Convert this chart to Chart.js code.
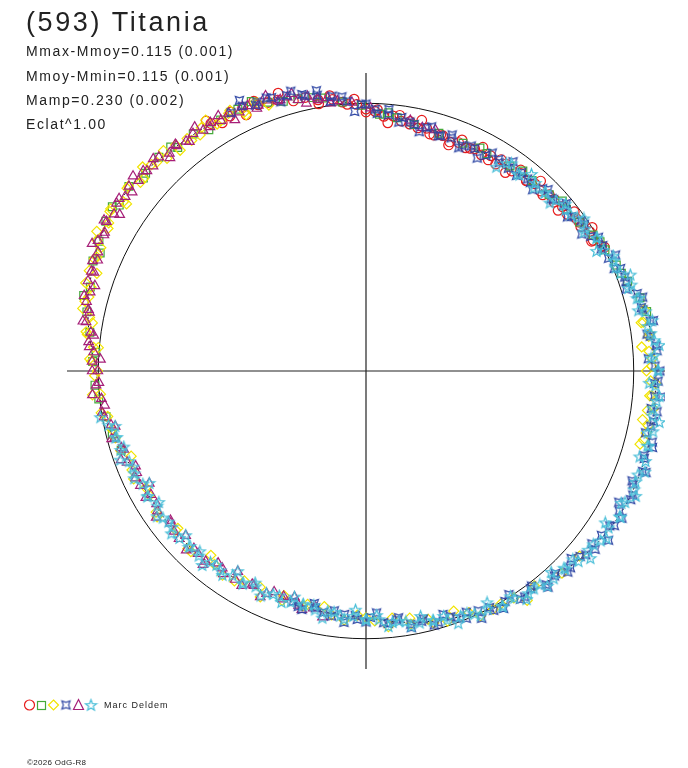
<!DOCTYPE html>
<html>
<head>
<meta charset="utf-8">
<script src="https://cdn.jsdelivr.net/npm/chart.js@4/dist/chart.umd.min.js"></script>
<style>
  html, body { margin: 0; padding: 0; background: #fff; }
  #wrap { position: relative; width: 688px; height: 768px; overflow: hidden; }
  canvas#c { position: absolute; left: 0; top: 0; }
  .t { position: absolute; font-family: "Liberation Sans", Arial, sans-serif; color: #222; white-space: nowrap; }
  #title { left: 26px; top: 9px; font-size: 27px; line-height: 27px; letter-spacing: 2.6px; }
  .st { left: 26px; font-size: 14px; line-height: 14px; letter-spacing: 1.6px; }
  #author { left: 104px; top: 701px; font-size: 9px; line-height: 9px; letter-spacing: 1px; }
  #copy { left: 27px; top: 759px; font-size: 8px; line-height: 8px; letter-spacing: 0.3px; }
</style>
</head>
<body>
<div id="wrap">
  <canvas id="c" width="688" height="768"></canvas>
  <div class="t" id="title">(593) Titania</div>
  <div class="t st" style="top:44px">Mmax-Mmoy=0.115 (0.001)</div>
  <div class="t st" style="top:69px">Mmoy-Mmin=0.115 (0.001)</div>
  <div class="t st" style="top:93px">Mamp=0.230 (0.002)</div>
  <div class="t st" style="top:117px">Eclat^1.00</div>
  <div class="t" id="author">Marc Deldem</div>
  <div class="t" id="copy">©2026 OdG-R8</div>
</div>
<script>
// ---- data: angle (deg, counter-clockwise from +x) and relative brightness radius ----
const axisMax = 1.115; // Mmax-Mmoy extent of the axes
const meanRadius = 1.0;

const redAngle  = [122,118,115,112,108,100,97,94,92,90,88,86,84,82,80,78,76,74,72,70,68,66,64,62,60,58,56,54,52,50,48,46,44,42,40,38,36,34,32,30,28,
                   122.5,120,117.5,115,112.5,110,107.5,105,102.5,100,97.5,95,92.5,90,87.5,85,82.5,80,77.5,75,72.5,70,67.5,65,62.5,60,57.5,55,52.5,50,47.5,45,42.5,40,37.5,35,32.5,30,27.5];
const redRadius = [1.092,1.080,1.088,1.074,1.066,1.030,1.024,1.000,0.998,0.980,0.972,0.955,0.960,0.944,0.948,0.930,0.936,0.918,0.926,0.912,0.922,0.914,0.925,0.916,0.930,0.913,0.934,0.925,0.938,0.930,0.942,0.936,0.950,0.944,0.956,0.952,0.970,0.966,0.984,0.978,0.995,
                   1.109,1.072,1.093,1.057,1.093,1.069,1.090,1.046,1.048,1.015,1.039,1.010,1.018,0.969,0.979,0.932,0.965,0.938,0.961,0.918,0.927,0.900,0.936,0.919,0.944,0.912,0.938,0.906,0.948,0.930,0.964,0.932,0.952,0.935,0.979,0.970,1.000,0.971,1.003];

const greenAngle  = [178,172,168,163,158,154,150,146,142,138,134,130,126,120,116,110,104,99,95,91,87,83,79,73,67,61,55,49,44,39,35,31,27,23,19,15,186,190,194,198,
                     176,165,156,147,139,131,123,113,107,101,85,63,52,41,29,21,12,183];
const greenRadius = [1.020,1.040,1.064,1.075,1.098,1.108,1.120,1.110,1.122,1.106,1.112,1.092,1.096,1.084,1.090,1.070,1.050,1.034,1.010,0.994,0.962,0.955,0.940,0.930,0.926,0.930,0.936,0.944,0.950,0.962,0.972,0.988,1.000,1.014,1.032,1.058,1.002,0.984,0.975,0.960,
                     1.010,1.090,1.085,1.128,1.100,1.110,1.076,1.095,1.055,1.042,0.970,0.936,0.950,0.970,0.998,1.020,1.070,1.012];

const yellowAngle  = [112,115,118,121,124,127,130,133,136,139,142,145,148,151,154,157,160,163,166,169,172,175,178,
                      181,185,189,193,198,203,208,214,220,226,232,238,244,250,256,262,268,
                      272,276,280,284,288,293,298,303,308,314,319,
                      346,349,352,355,358,1,4,7,10,
                      110,112.5,115,117.5,120,122.5,125,127.5,130,132.5,135,137.5,140,142.5,145,147.5,150,152.5,155,157.5,160,162.5,165,167.5,170,172.5,175,177.5,180,
                      185,190,195,200,205,210,215,220,225,230,235,240,245,250,255,260,265,270,275,280,285,290,295,300,305,
                      345,347.5,350,352.5,355,357.5,0,2.5,5,7.5,10,12.5];
const yellowRadius = [1.082,1.070,1.092,1.078,1.098,1.080,1.104,1.088,1.112,1.098,1.124,1.104,1.126,1.100,1.116,1.090,1.098,1.072,1.080,1.050,1.054,1.020,1.024,
                      1.012,0.994,1.000,0.972,0.962,0.948,0.930,0.944,0.926,0.940,0.918,0.926,0.900,0.914,0.900,0.922,0.914,
                      0.936,0.930,0.962,0.958,0.984,0.982,1.010,1.012,1.020,1.052,1.055,
                      1.066,1.072,1.060,1.070,1.062,1.066,1.058,1.062,1.050,
                      1.059,1.087,1.057,1.099,1.082,1.113,1.078,1.096,1.078,1.118,1.104,1.130,1.098,1.123,1.090,1.129,1.108,1.132,1.091,1.097,1.068,1.096,1.070,1.082,1.036,1.048,1.002,1.031,1.001,
                      1.024,0.978,0.968,0.932,0.956,0.932,0.951,0.916,0.940,0.900,0.933,0.907,0.933,0.894,0.910,0.895,0.936,0.923,0.960,0.939,0.976,0.956,1.011,1.006,1.048,
                      1.058,1.070,1.047,1.081,1.062,1.083,1.046,1.068,1.032,1.067,1.042,1.064];

const blueAngle  = [115,112,109,106,103,100,97,94,91,88,85,82,79,76,73,70,67,64,61,58,55,52,49,46,43,40,37,34,31,28,25,22,19,16,13,10,7,4,1,
                    358,355,352,349,346,343,340,337,334,331,328,325,322,319,316,313,310,307,304,301,298,295,292,289,286,283,280,277,274,271,268,265,262,258,254,
                    117.5,115,112.5,110,107.5,105,102.5,100,97.5,95,92.5,90,87.5,85,82.5,80,77.5,75,72.5,70,67.5,65,62.5,60,57.5,55,52.5,50,47.5,45,42.5,40,37.5,35,32.5,30,27.5,25,22.5,20,17.5,15,12.5,10,7.5,5,2.5,0,
                    357.5,355,352.5,350,347.5,345,342.5,340,337.5,335,332.5,330,327.5,325,322.5,320,317.5,315,312.5,310,307.5,305,302.5,300,297.5,295,292.5,290,287.5,285,282.5,280,277.5,275,272.5,270,267.5,265,262.5,260,257.5,255,252.5];
const blueRadius = [1.094,1.086,1.082,1.072,1.062,1.048,1.036,1.012,0.998,0.980,0.962,0.958,0.940,0.938,0.920,0.928,0.916,0.926,0.922,0.934,0.926,0.942,0.934,0.948,0.944,0.962,0.960,0.982,0.978,1.000,0.998,1.024,1.026,1.052,1.054,1.076,1.068,1.088,1.078,
                    1.090,1.080,1.096,1.082,1.100,1.084,1.098,1.082,1.098,1.080,1.092,1.072,1.084,1.058,1.060,1.036,1.044,1.020,1.030,1.006,1.014,0.990,0.998,0.972,0.978,0.952,0.962,0.938,0.944,0.922,0.930,0.914,0.926,0.906,0.916,
                    1.089,1.117,1.077,1.087,1.056,1.084,1.054,1.065,1.017,1.030,0.972,0.999,0.965,0.982,0.939,0.946,0.917,0.946,0.923,0.940,0.904,0.929,0.898,0.942,0.924,0.956,0.922,0.938,0.920,0.960,0.948,0.975,0.947,0.980,0.954,1.001,0.989,1.027,1.002,1.027,1.018,1.068,1.058,1.088,1.057,1.086,1.054,1.096,
                    1.077,1.108,1.073,1.089,1.068,1.106,1.088,1.111,1.074,1.098,1.063,1.102,1.078,1.104,1.062,1.070,1.038,1.064,1.040,1.056,1.014,1.032,0.992,1.026,0.998,1.021,0.977,0.984,0.955,0.984,0.959,0.975,0.931,0.948,0.906,0.939,0.916,0.944,0.905,0.917,0.891,0.924,0.905];

const purpleAngle  = [96,98,100,102,104,106,108,110,112,114,116,118,120,122,124,126,128,130,132,134,136,138,140,142,144,146,148,150,152,154,156,158,160,162,164,166,168,170,172,174,176,178,180,
                      183,186,189,192,195,198,201,204,207,210,214,218,222,226,230,234,238,242,246,250,254,258,
                      80,77,74,93,89,
                      97.5,100,102.5,105,107.5,110,112.5,115,117.5,120,122.5,125,127.5,130,132.5,135,137.5,140,142.5,145,147.5,150,152.5,155,157.5,160,162.5,165,167.5,170,172.5,175,177.5,180,
                      182.5,185,187.5,190,192.5,195,197.5,200,202.5,205,207.5,210,212.5,215,217.5,220,222.5,225,227.5,230,232.5,235,237.5,240,242.5,245,247.5,250,252.5,255,257.5,260];
const purpleRadius = [1.016,1.032,1.030,1.050,1.046,1.066,1.062,1.078,1.072,1.086,1.078,1.092,1.082,1.096,1.086,1.098,1.090,1.106,1.096,1.112,1.104,1.118,1.108,1.122,1.110,1.122,1.108,1.118,1.104,1.112,1.094,1.100,1.080,1.090,1.070,1.074,1.054,1.060,1.036,1.040,1.018,1.022,1.000,
                      1.008,0.992,0.996,0.972,0.970,0.950,0.954,0.936,0.944,0.926,0.938,0.924,0.938,0.924,0.930,0.912,0.920,0.904,0.912,0.898,0.912,0.904,
                      0.952,0.934,0.938,1.006,0.984,
                      1.011,1.037,1.026,1.074,1.064,1.095,1.063,1.091,1.059,1.102,1.083,1.114,1.082,1.100,1.082,1.122,1.108,1.134,1.099,1.124,1.089,1.128,1.102,1.127,1.083,1.090,1.060,1.088,1.060,1.072,1.024,1.036,0.991,1.021,
                      0.997,1.024,0.983,0.992,0.958,0.982,0.957,0.972,0.930,0.948,0.911,0.948,0.926,0.955,0.919,0.934,0.912,0.948,0.927,0.946,0.906,0.927,0.890,0.927,0.905,0.933,0.895,0.908,0.887,0.924,0.909,0.935];

const cyanAngle  = [56,52,48,45,42,39,36,33,30,27,24,21,18,15,12,9,6,3,0,357,354,351,348,345,342,339,336,333,330,327,324,321,318,315,312,309,306,303,300,
                    297,294,291,288,285,282,279,276,273,270,267,264,261,258,255,252,249,246,243,240,237,234,231,228,225,222,219,216,213,210,207,204,201,198,195,192,
                    57.5,55,52.5,50,47.5,45,42.5,40,37.5,35,32.5,30,27.5,25,22.5,20,17.5,15,12.5,10,7.5,5,2.5,0,
                    357.5,355,352.5,350,347.5,345,342.5,340,337.5,335,332.5,330,327.5,325,322.5,320,317.5,315,312.5,310,307.5,305,302.5,300,297.5,295,292.5,290,287.5,285,282.5,280,277.5,275,272.5,270,267.5,265,262.5,260,257.5,255,252.5,250,247.5,245,242.5,240,237.5,235,232.5,230,227.5,225,222.5,220,217.5,215,212.5,210,207.5,205,202.5,200,197.5,195,192.5,190];
const cyanRadius = [0.936,0.930,0.944,0.940,0.954,0.956,0.974,0.974,0.992,0.994,1.012,1.016,1.040,1.046,1.066,1.064,1.082,1.076,1.088,1.080,1.090,1.082,1.094,1.086,1.096,1.086,1.094,1.084,1.092,1.078,1.082,1.066,1.066,1.044,1.046,1.030,1.030,1.014,1.016,
                    1.000,0.996,0.984,0.980,0.966,0.964,0.950,0.946,0.932,0.930,0.920,0.922,0.912,0.914,0.904,0.910,0.902,0.912,0.906,0.916,0.914,0.924,0.922,0.932,0.928,0.936,0.930,0.936,0.928,0.938,0.934,0.946,0.946,0.962,0.962,0.982,
                    0.904,0.946,0.928,0.960,0.928,0.946,0.930,0.971,0.961,0.992,0.964,0.995,0.969,1.017,1.008,1.049,1.026,1.054,1.040,1.084,1.071,1.098,1.064,1.090,
                    1.057,1.098,1.079,1.111,1.076,1.092,1.070,1.107,1.088,1.110,1.073,1.096,1.058,1.094,1.068,1.092,1.046,1.050,1.022,1.052,1.028,1.044,1.002,1.020,0.978,1.011,0.983,1.006,0.963,0.970,0.941,0.971,0.945,0.960,0.916,0.933,0.896,0.934,0.911,0.939,0.899,0.910,0.887,0.922,0.905,0.929,0.895,0.921,0.890,0.933,0.916,0.950,0.917,0.934,0.912,0.948,0.929,0.951,0.916,0.942,0.911,0.954,0.940,0.976,0.947,0.968,0.958,1.006];

// fitted light curve read along the centre of the band
const fitAngle  = [0,10,20,30,40,50,60,70,80,90,100,110,120,130,140,150,160,170,180,190,200,210,220,230,240,250,260,270,280,290,300,310,320,330,340,350,360];
const fitRadius = [1.082,1.068,1.025,0.987,0.955,0.936,0.928,0.920,0.944,0.985,1.035,1.075,1.088,1.098,1.114,1.114,1.088,1.052,1.007,0.990,0.952,0.934,0.932,0.926,0.913,0.906,0.915,0.925,0.955,0.982,1.012,1.036,1.068,1.088,1.091,1.087,1.082];

// ---- helpers ----
function toXY(angles, radii) {
  return angles.map((a, i) => {
    const t = a * Math.PI / 180;
    return { x: radii[i] * Math.cos(t), y: radii[i] * Math.sin(t) };
  });
}
function starCanvas(color, points, outer, inner, rot) {
  const s = 15, c = document.createElement('canvas');
  c.width = s; c.height = s;
  const g = c.getContext('2d');
  g.strokeStyle = color; g.lineWidth = 1.2;
  g.beginPath();
  for (let i = 0; i < points * 2; i++) {
    const r = i % 2 === 0 ? outer : inner;
    const t = rot + i * Math.PI / points;
    const px = s / 2 + r * Math.cos(t), py = s / 2 + r * Math.sin(t);
    if (i === 0) g.moveTo(px, py); else g.lineTo(px, py);
  }
  g.closePath(); g.stroke();
  return c;
}

const colRed = '#e61c1c', colGreen = '#45aa3a', colYellow = '#f2e400', colBlue = '#2e46a4', colPurple = '#a61f78', colCyan = '#48bed8';
const blueStar = starCanvas(colBlue, 4, 5.8, 2.6, -Math.PI / 4);
const cyanStar = starCanvas(colCyan, 5, 5.8, 2.4, -Math.PI / 2);

function pts(label, angles, radii, style, color, radius) {
  return {
    label, data: toXY(angles, radii), showLine: false,
    pointStyle: style, pointRadius: radius, pointBorderWidth: 1.2,
    pointBorderColor: color, pointBackgroundColor: 'rgba(0,0,0,0)', borderColor: color
  };
}

const refCircle = {
  id: 'refCircle',
  beforeDatasetsDraw(chart) {
    const { ctx, scales: { x, y } } = chart;
    const cx = x.getPixelForValue(0), cy = y.getPixelForValue(0);
    const r = (x.getPixelForValue(meanRadius) - cx + cy - y.getPixelForValue(meanRadius)) / 2;
    ctx.save();
    ctx.strokeStyle = '#111'; ctx.lineWidth = 1;
    ctx.beginPath(); ctx.arc(cx, cy, r, 0, Math.PI * 2); ctx.stroke();
    ctx.restore();
  },
  afterDraw(chart) {
    const ctx = chart.ctx, y0 = 705;
    ctx.save(); ctx.lineWidth = 1.2;
    ctx.strokeStyle = colRed; ctx.beginPath(); ctx.arc(29.5, y0, 5, 0, Math.PI * 2); ctx.stroke();
    ctx.strokeStyle = colGreen; ctx.strokeRect(37.5, 701.5, 8, 8);
    ctx.strokeStyle = colYellow; ctx.beginPath(); ctx.moveTo(53.5, 700); ctx.lineTo(58.5, 705); ctx.lineTo(53.5, 710); ctx.lineTo(48.5, 705); ctx.closePath(); ctx.stroke();
    ctx.drawImage(blueStar, 66 - 7.5, y0 - 7.5);
    ctx.strokeStyle = colPurple; ctx.beginPath(); ctx.moveTo(78.5, 699.5); ctx.lineTo(83.5, 709.5); ctx.lineTo(73.5, 709.5); ctx.closePath(); ctx.stroke();
    ctx.drawImage(cyanStar, 91 - 7.5, y0 - 7);
    ctx.restore();
  }
};

new Chart(document.getElementById('c'), {
  type: 'scatter',
  data: {
    datasets: [
      pts('cyan', cyanAngle, cyanRadius, cyanStar, colCyan, 5),
      pts('blue', blueAngle, blueRadius, blueStar, colBlue, 5),
      pts('purple', purpleAngle, purpleRadius, 'triangle', colPurple, 5.5),
      pts('yellow', yellowAngle, yellowRadius, 'rectRot', colYellow, 5),
      pts('green', greenAngle, greenRadius, 'rect', colGreen, 5.5),
      pts('red', redAngle, redRadius, 'circle', colRed, 4.8),
      { label: 'fit', data: toXY(fitAngle, fitRadius), showLine: true, tension: 0.35, pointRadius: 0,
        borderColor: '#111', borderWidth: 1, borderDash: [2, 2], fill: false },
      { label: 'xaxis', data: [{ x: -axisMax, y: 0 }, { x: axisMax, y: 0 }], showLine: true, pointRadius: 0,
        borderColor: '#222', borderWidth: 1.2 },
      { label: 'yaxis', data: [{ x: 0, y: -axisMax }, { x: 0, y: axisMax }], showLine: true, pointRadius: 0,
        borderColor: '#222', borderWidth: 1.2 }
    ]
  },
  options: {
    responsive: false, animation: false, events: [],
    layout: { padding: { left: 67, right: 23, top: 73, bottom: 99 } },
    scales: {
      x: { type: 'linear', min: -axisMax, max: axisMax, display: false },
      y: { type: 'linear', min: -axisMax, max: axisMax, display: false }
    },
    plugins: { legend: { display: false }, tooltip: { enabled: false }, title: { display: false } }
  },
  plugins: [refCircle]
});
</script>
</body>
</html>
